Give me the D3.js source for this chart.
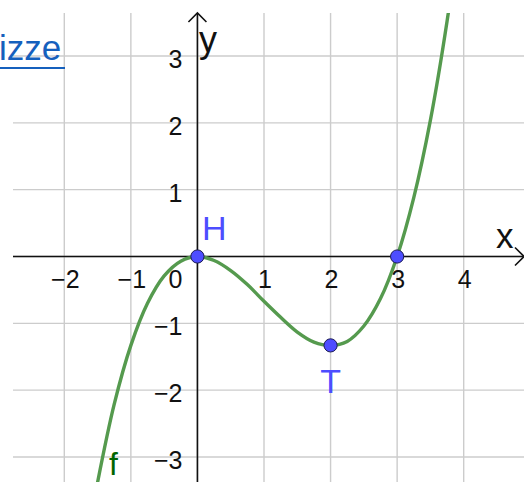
<!DOCTYPE html>
<html>
<head>
<meta charset="utf-8">
<script src="https://cdn.jsdelivr.net/npm/d3@7"></script>
<style>
  html, body { margin: 0; padding: 0; background: #fff; }
  svg { display: block; }
</style>
</head>
<body>
<svg id="chart" width="524" height="482"></svg>
<script>
// ---- data ----
const curveX = [-1.5, -1.25, -1.0, -0.75, -0.5, -0.25, 0, 0.25, 0.5, 0.75, 1.0, 1.25, 1.5, 1.75, 2.0, 2.25, 2.5, 2.75, 3.0, 3.25, 3.5, 3.75, 4.0];
const curveY = [-3.38, -2.21, -1.33, -0.70, -0.29, -0.07, 0, -0.06, -0.21, -0.42, -0.67, -0.91, -1.13, -1.28, -1.33, -1.27, -1.04, -0.63, 0, 0.88, 2.04, 3.52, 5.33];
const pointNames = ["H", "T", ""];
const pointX = [0, 2, 3];
const pointY = [0, -1.33, 0];
const xTicks = [-2, -1, 0, 1, 2, 3, 4];
const yTicks = [-3, -2, -1, 1, 2, 3];
const curveName = "f";
const linkText = "izze";

// ---- layout ----
const W = 524, H = 482;
const plotLeft = 13, plotTop = 13;
const svg = d3.select("#chart");
const x = d3.scaleLinear().domain([-2, 4]).range([64.3, 463.7]);
const y = d3.scaleLinear().domain([-3, 3]).range([457, 56]);
const fontTicks = "'Liberation Sans', Arial, sans-serif";

// grid
const grid = svg.append("g");
grid.selectAll("line.v").data(xTicks).join("line")
  .attr("x1", d => x(d)).attr("x2", d => x(d))
  .attr("y1", plotTop).attr("y2", H)
  .attr("stroke", "#cccccc").attr("stroke-width", 1.4);
grid.selectAll("line.h").data(yTicks.concat([0])).join("line")
  .attr("x1", plotLeft).attr("x2", W)
  .attr("y1", d => y(d)).attr("y2", d => y(d))
  .attr("stroke", "#cccccc").attr("stroke-width", 1.4);

// axes
const ax = svg.append("g").attr("stroke", "#111").attr("stroke-width", 1.6).attr("fill", "none");
ax.append("line").attr("x1", plotLeft).attr("x2", W - 1).attr("y1", y(0)).attr("y2", y(0));
ax.append("line").attr("x1", x(0)).attr("x2", x(0)).attr("y1", H).attr("y2", plotTop);
ax.append("path").attr("d", `M${W - 9},${y(0) - 9} L${W},${y(0)} L${W - 9},${y(0) + 9}`);
ax.append("path").attr("d", `M${x(0) - 9},${plotTop + 9} L${x(0)},${plotTop} L${x(0) + 9},${plotTop + 9}`);

// tick labels
const tl = svg.append("g").attr("font-family", fontTicks).attr("font-size", 25).attr("fill", "#111");
tl.selectAll("text.x").data(xTicks).join("text")
  .attr("x", d => d === 0 ? x(0) - 15 : x(d) + 1)
  .attr("y", 288)
  .attr("text-anchor", d => d === 0 ? "end" : "middle")
  .text(d => d < 0 ? "\u2212" + Math.abs(d) : String(d));
tl.selectAll("text.y").data(yTicks).join("text")
  .attr("x", x(0) - 15)
  .attr("y", d => y(d) + 12)
  .attr("text-anchor", "end")
  .text(d => d < 0 ? "\u2212" + Math.abs(d) : String(d));

// axis names
svg.append("text").attr("x", 496).attr("y", 248).attr("font-family", fontTicks)
  .attr("font-size", 35).attr("fill", "#111").text("x");
svg.append("text").attr("x", 199).attr("y", 52).attr("font-family", fontTicks)
  .attr("font-size", 36).attr("fill", "#111").text("y");

// curve
svg.append("clipPath").attr("id", "plotclip").append("rect")
  .attr("x", plotLeft).attr("y", plotTop).attr("width", W - plotLeft).attr("height", H - plotTop);
const pts = curveX.map((v, i) => [v, curveY[i]]);
const line = d3.line().x(d => x(d[0])).y(d => y(d[1])).curve(d3.curveCatmullRom.alpha(0.5));
svg.append("path").datum(pts)
  .attr("clip-path", "url(#plotclip)")
  .attr("d", line)
  .attr("fill", "none").attr("stroke", "#559a4e").attr("stroke-width", 3.4);

svg.append("text").attr("x", 109).attr("y", 475).attr("font-family", fontTicks)
  .attr("font-size", 32).attr("fill", "#006400").text(curveName);

// points
svg.selectAll("circle.pt").data(pointX).join("circle")
  .attr("cx", d => x(d)).attr("cy", (d, i) => y(pointY[i]))
  .attr("r", 6.6).attr("fill", "#4d4dff").attr("stroke", "#1c1c55").attr("stroke-width", 1);

// point labels
svg.append("text").attr("x", 202).attr("y", 240).attr("font-family", fontTicks)
  .attr("font-size", 34).attr("fill", "#4d4dff").text(pointNames[0]);
svg.append("text").attr("x", x(pointX[1])).attr("y", 393).attr("text-anchor", "middle")
  .attr("font-family", fontTicks).attr("font-size", 34).attr("fill", "#4d4dff").text(pointNames[1]);

// link text
svg.append("text").attr("x", -1).attr("y", 60)
  .attr("font-family", fontTicks).attr("font-size", 35).attr("fill", "#1560bd").text(linkText);
svg.append("line").attr("x1", 0).attr("x2", 65).attr("y1", 68).attr("y2", 68)
  .attr("stroke", "#1560bd").attr("stroke-width", 2);
</script>
</body>
</html>
